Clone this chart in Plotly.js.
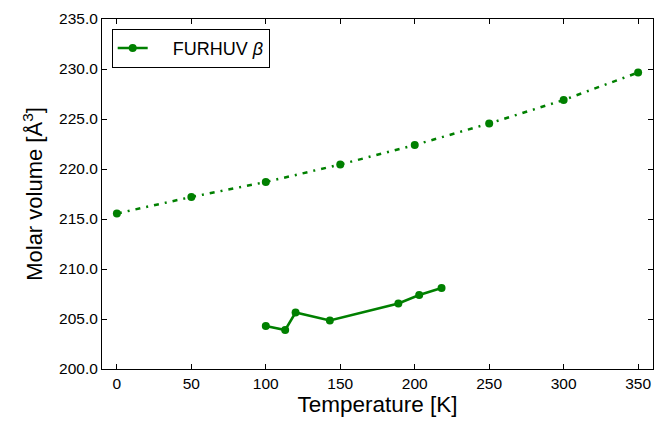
<!DOCTYPE html>
<html>
<head>
<meta charset="utf-8">
<script src="https://cdn.plot.ly/plotly-3.0.1.min.js"></script>
<style>html,body{margin:0;padding:0;background:#fff;}#chart{width:656px;height:430px;}</style>
</head>
<body>
<div id="chart"></div>
<script>
// Calculated / fitted curve (dash-dot)
const calcTemps = [0, 50, 100, 150, 200, 250, 300, 350];
const calcVolumes = [215.55, 217.2, 218.7, 220.45, 222.4, 224.55, 226.9, 229.65];
// Experimental FURHUV beta
const expTemps = [100, 113, 120, 143, 189, 203, 218];
const expVolumes = [204.3, 203.9, 205.65, 204.85, 206.55, 207.4, 208.1];
const seriesName = 'FURHUV <i>β</i>';
const xTicks = [0, 50, 100, 150, 200, 250, 300, 350];
const yTicks = [200, 205, 210, 215, 220, 225, 230, 235];

const green = '#008000';
const font = 'Liberation Sans, Arial, Helvetica, sans-serif';

const traces = [
  {
    x: expTemps, y: expVolumes, name: '&nbsp;&nbsp;&nbsp;&nbsp;' + seriesName, mode: 'lines+markers',
    line: {color: green, width: 2.5},
    marker: {color: green, size: 8},
    showlegend: true
  },
  {
    x: calcTemps, y: calcVolumes, name: 'calc', mode: 'lines+markers',
    line: {color: green, width: 2.5, dash: '5px,6px,2px,6px'},
    marker: {color: green, size: 8},
    showlegend: false
  }
];

const axisCommon = {
  showline: true, linecolor: '#000', linewidth: 1, mirror: 'ticks',
  ticks: 'inside', ticklen: 5, tickcolor: '#000', tickwidth: 1,
  showgrid: false, zeroline: false,
  tickfont: {family: font, size: 15.5, color: '#000'}
};

const layout = {
  width: 656, height: 430,
  margin: {l: 102, r: 3, t: 19, b: 61},
  paper_bgcolor: '#fff', plot_bgcolor: '#fff',
  font: {family: font, color: '#000'},
  xaxis: Object.assign({}, axisCommon, {
    range: [-10, 360], tickvals: xTicks, ticktext: xTicks.map(String),
    title: {text: 'Temperature [K]', font: {family: font, size: 22.5, color: '#000'}, standoff: 4}
  }),
  yaxis: Object.assign({}, axisCommon, {
    range: [200, 235], tickvals: yTicks, ticktext: yTicks.map(v => v.toFixed(1)),
    title: {text: 'Molar volume [Å<sup>3</sup>]', font: {family: font, size: 22, color: '#000'}, standoff: 10}
  }),
  legend: {
    x: 0.0176, y: 0.972, xanchor: 'left', yanchor: 'top',
    bordercolor: '#000', borderwidth: 1, bgcolor: '#fff',
    font: {family: font, size: 18, color: '#000'}
  },
  showlegend: true
};

Plotly.newPlot('chart', traces, layout, {displayModeBar: false, staticPlot: true});
</script>
</body>
</html>
